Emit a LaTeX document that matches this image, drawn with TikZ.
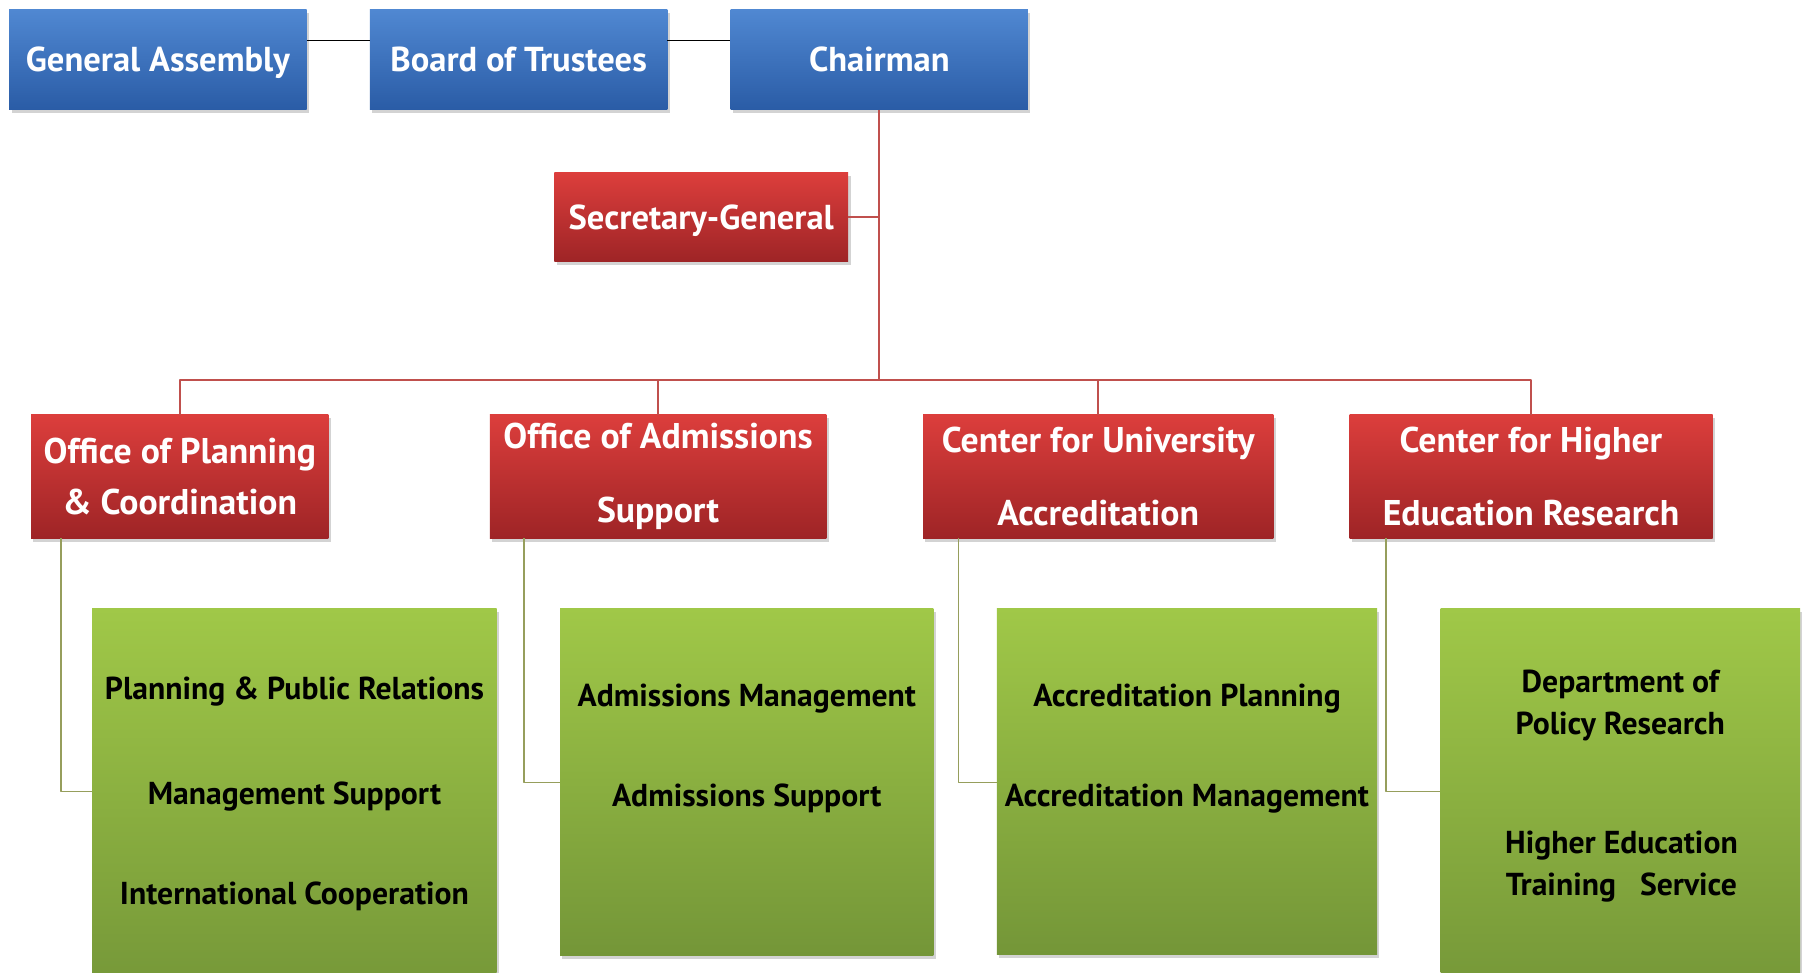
\documentclass[tikz,border=0pt]{standalone}
\usepackage{fontspec}
\setmainfont{PT Sans}
\usetikzlibrary{shadows}
\definecolor{bluetop}{RGB}{80,136,210}
\definecolor{bluebot}{RGB}{42,92,166}
\definecolor{redtop}{RGB}{220,62,60}
\definecolor{redbot}{RGB}{158,36,38}
\definecolor{greentop}{RGB}{160,200,72}
\definecolor{greenbot}{RGB}{116,150,56}
\definecolor{redline}{RGB}{192,80,77}
\definecolor{oliveline}{RGB}{150,158,92}
\tikzset{
  box/.style={rectangle, inner sep=0pt, align=center,
    drop shadow={opacity=0.35, shadow xshift=2pt, shadow yshift=-3pt}},
  bluebox/.style={box, top color=bluetop, bottom color=bluebot, text=white,
    font=\bfseries\fontsize{30}{36}\selectfont, text height=21pt, text depth=0pt,
    minimum width=258pt, minimum height=87pt},
  redbox/.style={box, top color=redtop, bottom color=redbot, text=white,
    font=\bfseries\fontsize{31}{37}\selectfont, minimum height=107pt},
  greenbox/.style={box, top color=greentop, bottom color=greenbot},
  item/.style={font=\bfseries\fontsize{27.5}{36}\selectfont, text=black, align=center},
}
\begin{document}
\begin{tikzpicture}[x=1pt, y=-1pt, line join=round]
  \useasboundingbox (0,0) rectangle (1568,844);
  \clip (0,0) rectangle (1568,844);
  % top row
  \node[bluebox] (ga) at (137,51.5) {General Assembly};
  \node[bluebox] (bot) at (450,51.5) {Board of Trustees};
  \node[bluebox] (chair) at (763,51.5) {Chairman};
  \node[redbox, font=\bfseries\fontsize{30}{36}\selectfont, text height=21pt, text depth=0pt,
    minimum width=255pt, minimum height=77pt] (sec) at (608.5,188.5) {Secretary-General};
  % offices and centers
  \node[redbox, minimum width=258pt] (opc) at (156,413.5) {Office of Planning\\[8pt]\& Coordination};
  \node[redbox, minimum width=292pt] (oas) at (571,413.5) {Office of Admissions\\[27pt]Support};
  \node[redbox, minimum width=304pt] (cua) at (953,413.5) {Center for University\\[27pt]Accreditation};
  \node[redbox, minimum width=315pt] (cher) at (1328.5,413.5) {Center for Higher\\[27pt]Education Research};
  % departments
  \node[greenbox, minimum width=351pt, minimum height=340pt] (g1) at (255.5,698) {};
  \node[greenbox, minimum width=324pt, minimum height=301pt] (g2) at (648,678.5) {};
  \node[greenbox, minimum width=330pt, minimum height=300pt] (g3) at (1030,678) {};
  \node[greenbox, minimum width=312pt, minimum height=340pt] (g4) at (1406,698) {};
  \node[item] (t11) at (255.5,600) {Planning \& Public Relations};
  \node[item] (t12) at (255.5,691) {Management Support};
  \node[item] (t13) at (255.5,778) {International Cooperation};
  \node[item] (t21) at (648,606) {Admissions Management};
  \node[item] (t22) at (648,693) {Admissions Support};
  \node[item] (t31) at (1030,606) {Accreditation Planning};
  \node[item] (t32) at (1030,693) {Accreditation Management};
  \node[item] (t41) at (1406,612) {Department of\\Policy Research};
  \node[item] (t42) at (1407,752) {Higher Education\\Training~~ Service};
  % connectors
  \draw[line width=1.3pt] (ga.east |- 0,35) -- (bot.west |- 0,35)
    (bot.east |- 0,35) -- (chair.west |- 0,35);
  \coordinate (bus) at (763,330);
  \draw[redline, line width=1.5pt] (chair.south) -- (bus)
    (sec.east) -- (sec.east -| chair.south);
  \foreach \n in {opc,oas,cua,cher}
    \draw[redline, line width=1.5pt] (bus) -| (\n.north);
  \foreach \a/\b/\dx/\y in {opc/g1/26/687,oas/g2/30/679,cua/g3/31/679,cher/g4/32/687}
    \draw[oliveline, line width=1.3pt] (\a.south west) ++(\dx,0) |- (\b.west |- 0,\y);
\end{tikzpicture}
\end{document}
